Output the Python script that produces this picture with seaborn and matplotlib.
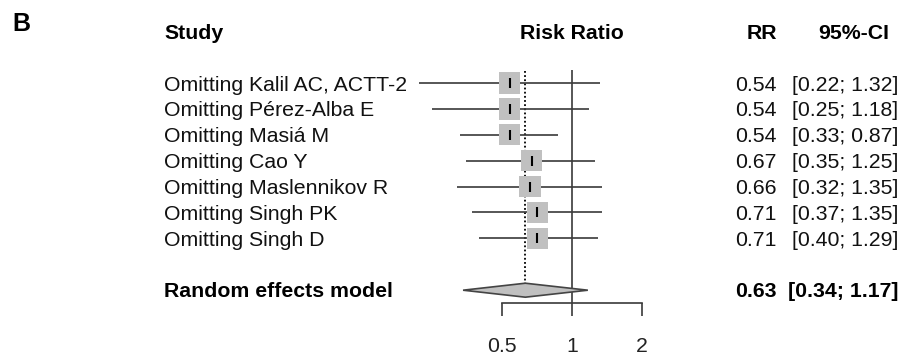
import matplotlib
matplotlib.use("Agg")
import matplotlib.pyplot as plt
import seaborn as sns
import pandas as pd
import numpy as np
from matplotlib.transforms import blended_transform_factory
from matplotlib.ticker import NullLocator, FixedLocator, FixedFormatter

# ---- data ----
studies = ["Omitting Kalil AC, ACTT-2", "Omitting Pérez-Alba E", "Omitting Masiá M",
           "Omitting Cao Y", "Omitting Maslennikov R", "Omitting Singh PK", "Omitting Singh D"]
rr = [0.54, 0.54, 0.54, 0.67, 0.66, 0.71, 0.71]
ci_lo = [0.22, 0.25, 0.33, 0.35, 0.32, 0.37, 0.40]
ci_hi = [1.32, 1.18, 0.87, 1.25, 1.35, 1.35, 1.29]
pooled_label = "Random effects model"
pooled_rr = 0.63
pooled_lo = 0.34
pooled_hi = 1.17
tick_vals = [0.5, 1, 2]
tick_labels = ["0.5", "1", "2"]

sns.set_style("white")
plt.rcParams['font.family'] = ['Liberation Sans', 'DejaVu Sans']

W, H = 901, 355
fig = plt.figure(figsize=(W / 100, H / 100), dpi=100)

# pixel geometry of forest panel
px_left, px_right = 400, 660
px_one, px_per_log2 = 572, 70
px_top, px_bot = 60, 303
row0_px, row_step = 83, 25.9

ax = fig.add_axes([px_left / W, (H - px_bot) / H, (px_right - px_left) / W, (px_bot - px_top) / H])
ax.set_xscale("log")
ax.set_xlim(2 ** ((px_left - px_one) / px_per_log2), 2 ** ((px_right - px_one) / px_per_log2))
ax.set_ylim((px_bot - row0_px) / row_step, (px_top - row0_px) / row_step)

rows = np.arange(len(studies))
pooled_row = len(studies) + 1
df = pd.DataFrame({"study": studies, "rr": rr, "lo": ci_lo, "hi": ci_hi, "row": rows})

line_col = "#3a3a3a"
# reference lines
ax.vlines(1, -0.5, ax.get_ylim()[0], color=line_col, lw=1.2, zorder=1)
dh = 0.27
ax.vlines(pooled_rr, -0.45, pooled_row - dh, color="black", lw=1.3,
          linestyles=(0, (1, 1.3)), zorder=1)

# CIs
ax.hlines(df["row"], df["lo"], df["hi"], color=line_col, lw=1.2, zorder=2)
# squares
sns.scatterplot(data=df, x="rr", y="row", marker="s", s=235, color="#c0c0c0",
                edgecolor="none", linewidth=0, ax=ax, zorder=3, legend=False)
# point ticks
ax.plot(df["rr"], df["row"], ls="none", marker="|", ms=6.5, mew=1.5, color="black", zorder=4)

# diamond
ax.fill([pooled_lo, pooled_rr, pooled_hi, pooled_rr],
        [pooled_row, pooled_row - dh, pooled_row, pooled_row + dh],
        facecolor="#c0c0c0", edgecolor="#444444", lw=1.2, zorder=3)

# axis
for s in ["top", "left", "right"]:
    ax.spines[s].set_visible(False)
ax.spines["bottom"].set_bounds(tick_vals[0], tick_vals[-1])
ax.spines["bottom"].set_color(line_col)
ax.spines["bottom"].set_linewidth(1.2)
ax.xaxis.set_major_locator(FixedLocator(tick_vals))
ax.xaxis.set_major_formatter(FixedFormatter(tick_labels))
ax.xaxis.set_minor_locator(NullLocator())
ax.tick_params(axis="x", direction="out", length=9.4, width=1.2, color=line_col,
               pad=15, labelsize=15.3, labelcolor="#222222", bottom=True)
ax.set_yticks([])
ax.set_xlabel("")
ax.set_ylabel("")
ax.patch.set_alpha(0)

# text columns
tr = blended_transform_factory(fig.transFigure, ax.transData)
fs = 15.3
hdr_row = -1.93
txt = "#111111"
ax.text(164 / W, hdr_row, "Study", transform=tr, ha="left", va="center",
        fontsize=fs, fontweight="bold", color="black", clip_on=False)
ax.text(1, hdr_row, "Risk Ratio", ha="center", va="center",
        fontsize=fs, fontweight="bold", color="black", clip_on=False)
ax.text(777 / W, hdr_row, "RR", transform=tr, ha="right", va="center",
        fontsize=fs, fontweight="bold", color="black", clip_on=False)
ax.text(889 / W, hdr_row, "95%-CI", transform=tr, ha="right", va="center",
        fontsize=fs, fontweight="bold", color="black", clip_on=False)

for r, name, v, l, h in zip(rows, studies, rr, ci_lo, ci_hi):
    ax.text(164 / W, r + 0.08, name, transform=tr, ha="left", va="center",
            fontsize=fs, color=txt, clip_on=False)
    ax.text(777 / W, r + 0.08, f"{v:.2f}", transform=tr, ha="right", va="center",
            fontsize=fs, color=txt, clip_on=False)
    ax.text(898 / W, r + 0.08, f"[{l:.2f}; {h:.2f}]", transform=tr, ha="right", va="center",
            fontsize=fs, color=txt, clip_on=False)

ax.text(164 / W, pooled_row + 0.05, pooled_label, transform=tr, ha="left", va="center",
        fontsize=fs, fontweight="bold", color="black", clip_on=False)
ax.text(777 / W, pooled_row + 0.05, f"{pooled_rr:.2f}", transform=tr, ha="right", va="center",
        fontsize=fs, fontweight="bold", color="black", clip_on=False)
ax.text(898 / W, pooled_row + 0.05, f"[{pooled_lo:.2f}; {pooled_hi:.2f}]", transform=tr,
        ha="right", va="center", fontsize=fs, fontweight="bold", color="black", clip_on=False)

fig.text(12 / W, 1 - 24 / H, "B", ha="left", va="center", fontsize=18, fontweight="bold",
         color="black")

fig.savefig("out.png", dpi=100)
